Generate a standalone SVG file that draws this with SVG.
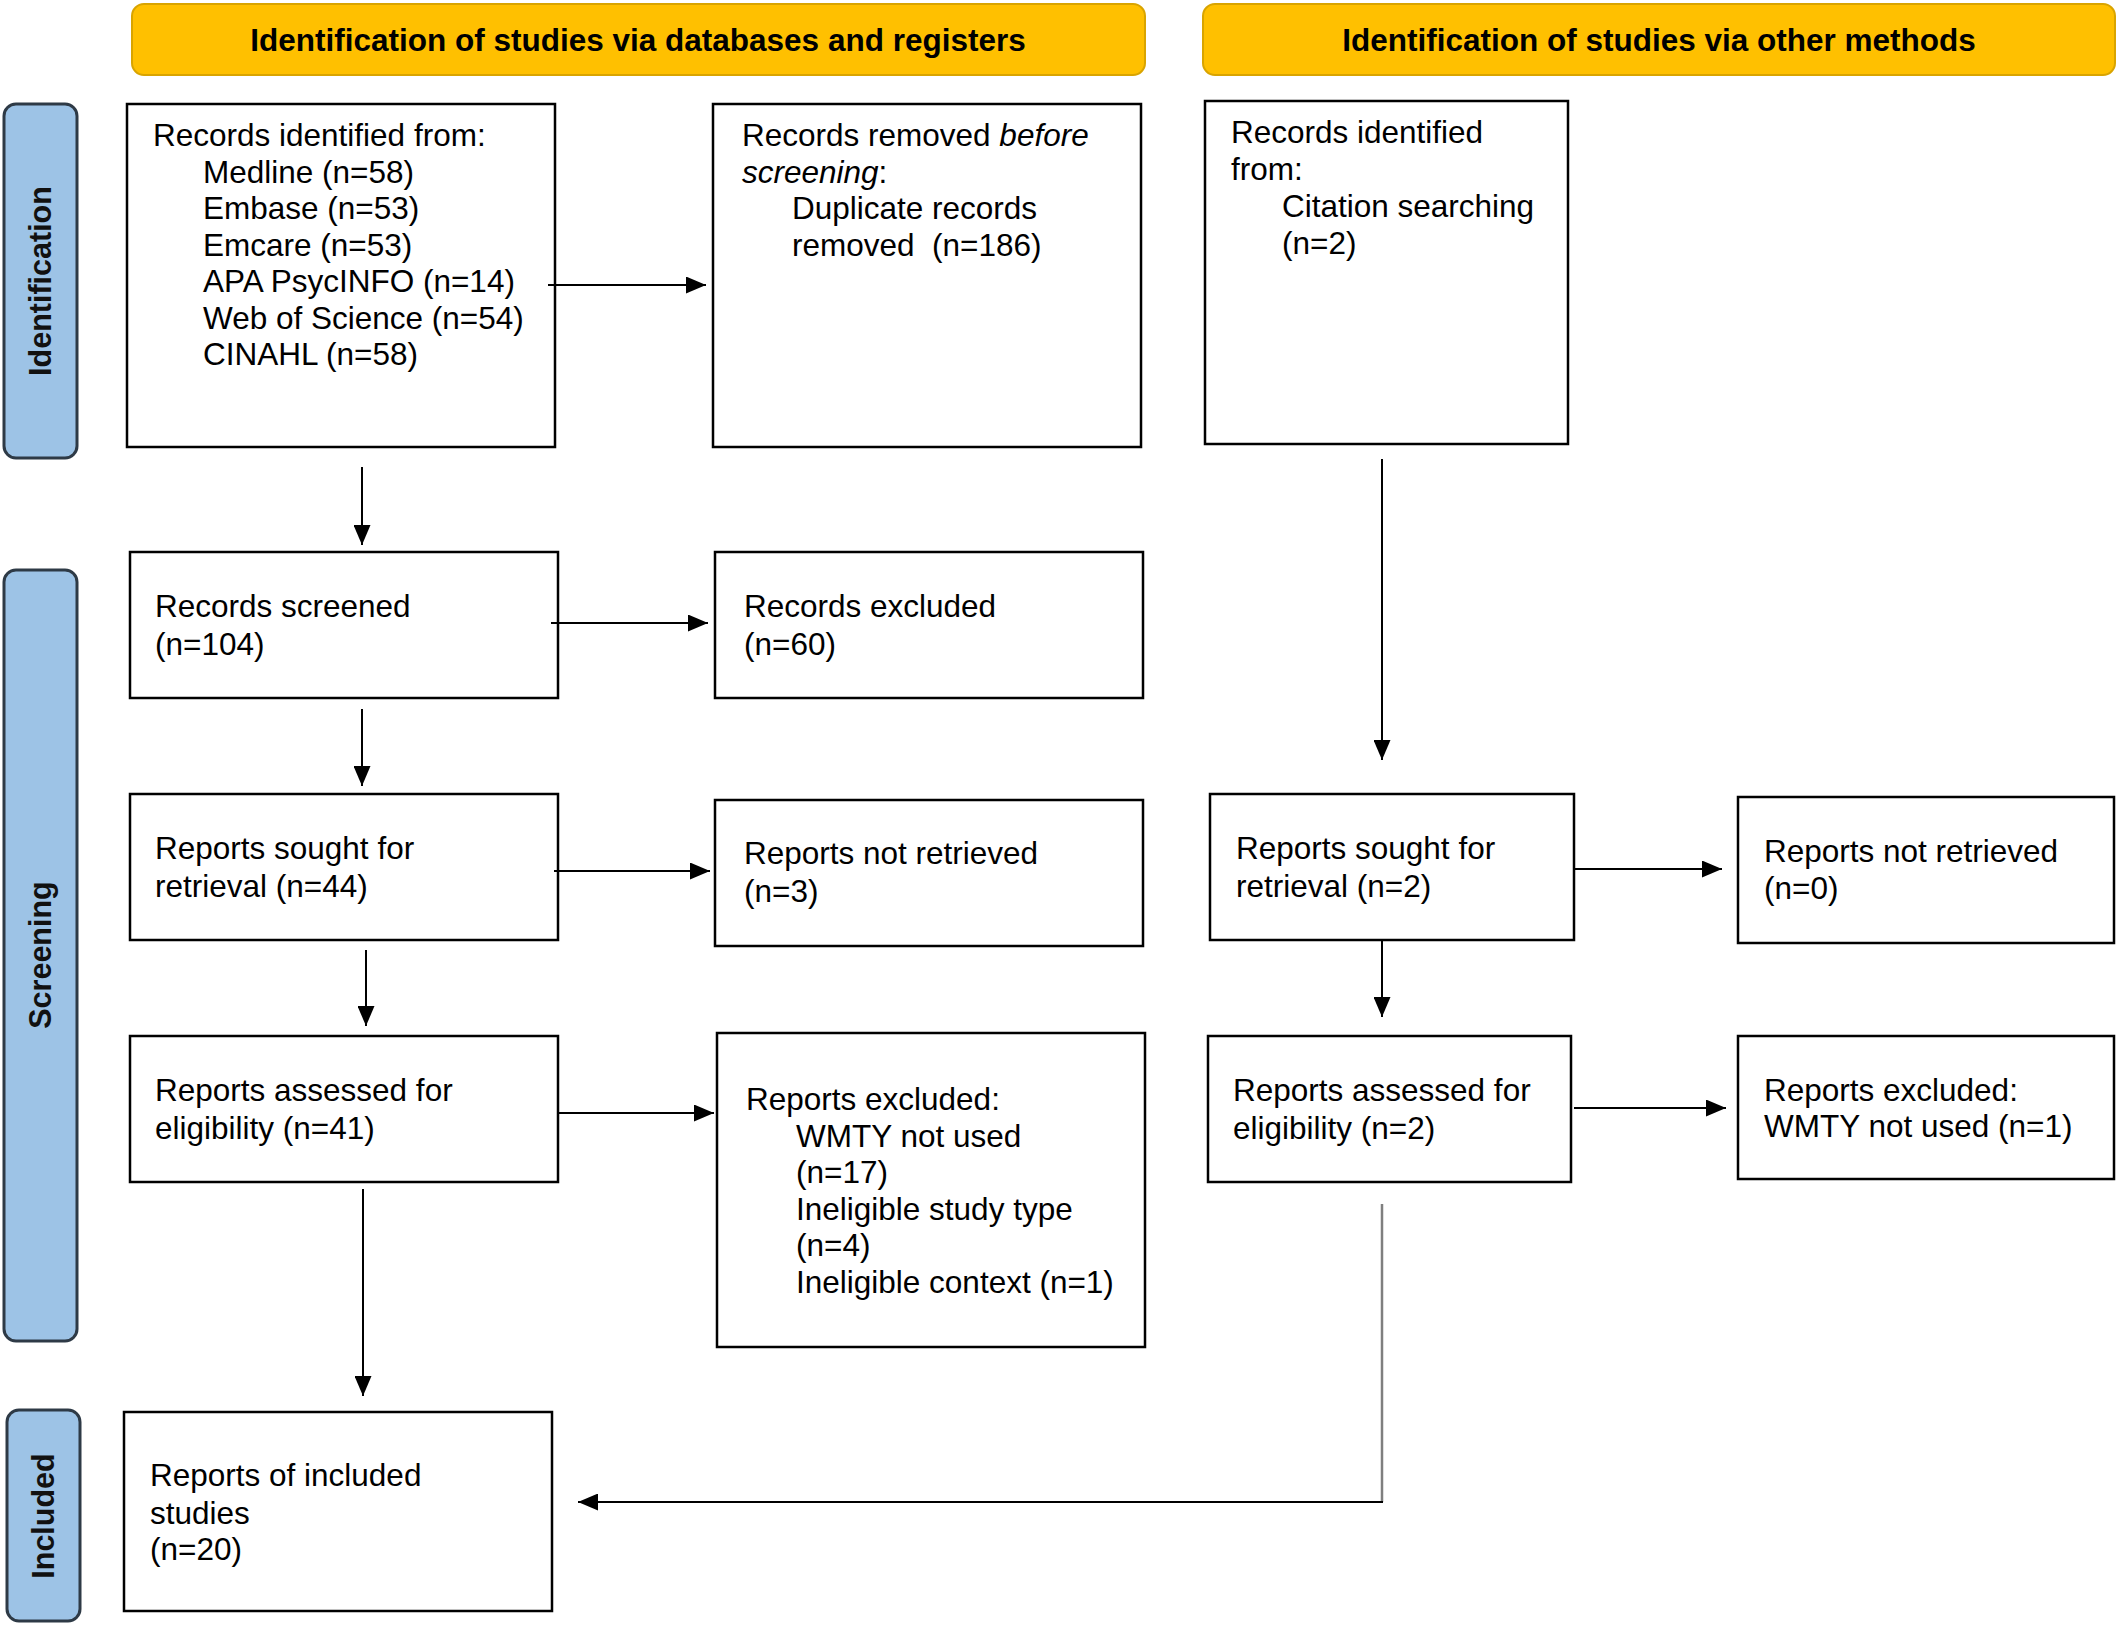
<svg xmlns="http://www.w3.org/2000/svg" width="2118" height="1626" viewBox="0 0 2118 1626">
<style>
.hdr{fill:#FFC000;stroke:#D9A400;stroke-width:2}
.side{fill:#9DC3E6;stroke:#2E3A46;stroke-width:3}
.box{fill:#fff;stroke:#000;stroke-width:2.5}
.t{font-family:"Liberation Sans",Arial,sans-serif;font-size:31.5px;fill:#000}
.h{font-family:"Liberation Sans",Arial,sans-serif;font-size:31.5px;font-weight:bold;fill:#000}
.s{font-family:"Liberation Sans",Arial,sans-serif;font-size:30.5px;font-weight:bold;fill:#111}
.ln{stroke:#000;stroke-width:2;fill:none}
</style>
<defs>
<marker id="ah" markerUnits="userSpaceOnUse" markerWidth="20" markerHeight="17" viewBox="0 0 20 17" refX="20" refY="8.5" orient="auto">
<path d="M0,0 L20,8.5 L0,17 Z" fill="#000"/>
</marker>
</defs>
<rect width="2118" height="1626" fill="#fff"/>

<g id="header-databases">
<rect class="hdr" x="132" y="4" width="1013" height="71" rx="12"/>
<text class="h" x="638" y="51" text-anchor="middle">Identification of studies via databases and registers</text>
</g>
<g id="header-other">
<rect class="hdr" x="1203" y="4" width="912" height="71" rx="12"/>
<text class="h" x="1659" y="51" text-anchor="middle">Identification of studies via other methods</text>
</g>

<g id="side-identification">
<rect class="side" x="4" y="104" width="73" height="354" rx="12"/>
<text class="s" transform="translate(51,281) rotate(-90)" text-anchor="middle">Identification</text>
</g>
<g id="side-screening">
<rect class="side" x="4" y="570" width="73" height="771" rx="12"/>
<text class="s" transform="translate(51,955) rotate(-90)" text-anchor="middle">Screening</text>
</g>
<g id="side-included">
<rect class="side" x="7" y="1410" width="73" height="211" rx="12"/>
<text class="s" transform="translate(54,1516) rotate(-90)" text-anchor="middle">Included</text>
</g>

<g id="records-identified">
<rect class="box" x="127" y="104" width="428" height="343"/>
<text class="t" x="153" y="146">Records identified from:</text>
<text class="t" x="203" y="182.5">Medline (n=58)</text>
<text class="t" x="203" y="219">Embase (n=53)</text>
<text class="t" x="203" y="255.5">Emcare (n=53)</text>
<text class="t" x="203" y="292">APA PsycINFO (n=14)</text>
<text class="t" x="203" y="328.5">Web of Science (n=54)</text>
<text class="t" x="203" y="365">CINAHL (n=58)</text>
</g>
<g id="records-removed">
<rect class="box" x="713" y="104" width="428" height="343"/>
<text class="t" x="742" y="146">Records removed <tspan font-style="italic">before</tspan></text>
<text class="t" x="742" y="182.5"><tspan font-style="italic">screening</tspan>:</text>
<text class="t" x="792" y="219">Duplicate records</text>
<text class="t" x="792" y="255.5" style="white-space:pre">removed  (n=186)</text>
</g>
<g id="records-other">
<rect class="box" x="1205" y="101" width="363" height="343"/>
<text class="t" x="1231" y="143">Records identified</text>
<text class="t" x="1231" y="180">from:</text>
<text class="t" x="1282" y="217">Citation searching</text>
<text class="t" x="1282" y="254">(n=2)</text>
</g>

<g id="records-screened">
<rect class="box" x="130" y="552" width="428" height="146"/>
<text class="t" x="155" y="617">Records screened</text>
<text class="t" x="155" y="655">(n=104)</text>
</g>
<g id="records-excluded">
<rect class="box" x="715" y="552" width="428" height="146"/>
<text class="t" x="744" y="617">Records excluded</text>
<text class="t" x="744" y="655">(n=60)</text>
</g>

<g id="sought-db">
<rect class="box" x="130" y="794" width="428" height="146"/>
<text class="t" x="155" y="859">Reports sought for</text>
<text class="t" x="155" y="897">retrieval (n=44)</text>
</g>
<g id="notretrieved-db">
<rect class="box" x="715" y="800" width="428" height="146"/>
<text class="t" x="744" y="864">Reports not retrieved</text>
<text class="t" x="744" y="902">(n=3)</text>
</g>
<g id="sought-other">
<rect class="box" x="1210" y="794" width="364" height="146"/>
<text class="t" x="1236" y="859">Reports sought for</text>
<text class="t" x="1236" y="897">retrieval (n=2)</text>
</g>
<g id="notretrieved-other">
<rect class="box" x="1738" y="797" width="376" height="146"/>
<text class="t" x="1764" y="862">Reports not retrieved</text>
<text class="t" x="1764" y="899">(n=0)</text>
</g>

<g id="assessed-db">
<rect class="box" x="130" y="1036" width="428" height="146"/>
<text class="t" x="155" y="1101">Reports assessed for</text>
<text class="t" x="155" y="1139">eligibility (n=41)</text>
</g>
<g id="excluded-db">
<rect class="box" x="717" y="1033" width="428" height="314"/>
<text class="t" x="746" y="1110">Reports excluded:</text>
<text class="t" x="796" y="1147">WMTY not used</text>
<text class="t" x="796" y="1183">(n=17)</text>
<text class="t" x="796" y="1220">Ineligible study type</text>
<text class="t" x="796" y="1256">(n=4)</text>
<text class="t" x="796" y="1293">Ineligible context (n=1)</text>
</g>
<g id="assessed-other">
<rect class="box" x="1208" y="1036" width="363" height="146"/>
<text class="t" x="1233" y="1101">Reports assessed for</text>
<text class="t" x="1233" y="1139">eligibility (n=2)</text>
</g>
<g id="excluded-other">
<rect class="box" x="1738" y="1036" width="376" height="143"/>
<text class="t" x="1764" y="1101">Reports excluded:</text>
<text class="t" x="1764" y="1137">WMTY not used (n=1)</text>
</g>

<g id="included">
<rect class="box" x="124" y="1412" width="428" height="199"/>
<text class="t" x="150" y="1486">Reports of included</text>
<text class="t" x="150" y="1524">studies</text>
<text class="t" x="150" y="1560">(n=20)</text>
</g>

<g id="connectors">
<line class="ln" x1="548" y1="285" x2="706" y2="285" marker-end="url(#ah)"/>
<line class="ln" x1="362" y1="467" x2="362" y2="545" marker-end="url(#ah)"/>
<line class="ln" x1="551" y1="623" x2="708" y2="623" marker-end="url(#ah)"/>
<line class="ln" x1="362" y1="709" x2="362" y2="786" marker-end="url(#ah)"/>
<line class="ln" x1="554" y1="871" x2="710" y2="871" marker-end="url(#ah)"/>
<line class="ln" x1="366" y1="950" x2="366" y2="1026" marker-end="url(#ah)"/>
<line class="ln" x1="558" y1="1113" x2="714" y2="1113" marker-end="url(#ah)"/>
<line class="ln" x1="363" y1="1189" x2="363" y2="1396" marker-end="url(#ah)"/>
<line class="ln" x1="1382" y1="459" x2="1382" y2="760" marker-end="url(#ah)"/>
<line class="ln" x1="1574" y1="869" x2="1722" y2="869" marker-end="url(#ah)"/>
<line class="ln" x1="1382" y1="941" x2="1382" y2="1017" marker-end="url(#ah)"/>
<line class="ln" x1="1574" y1="1108" x2="1726" y2="1108" marker-end="url(#ah)"/>
<line x1="1382" y1="1204" x2="1382" y2="1502" stroke="#7f7f7f" stroke-width="2.5"/>
<line class="ln" x1="1383" y1="1502" x2="578" y2="1502" marker-end="url(#ah)"/>
</g>
</svg>
